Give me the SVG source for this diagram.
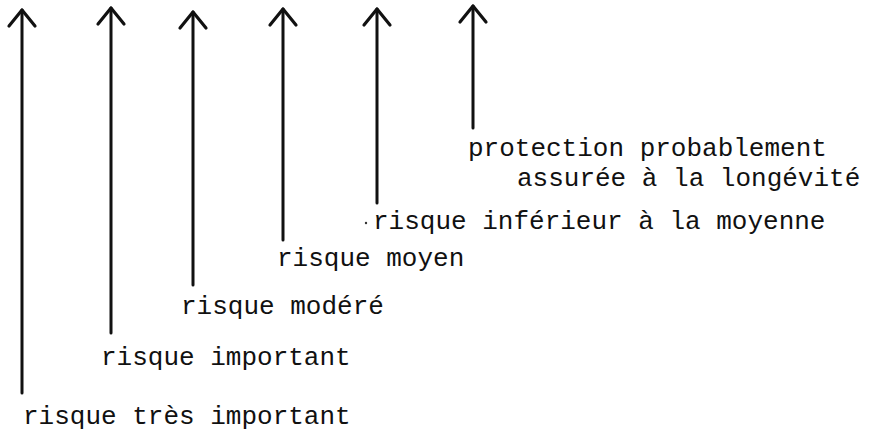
<svg xmlns="http://www.w3.org/2000/svg" width="881" height="433" viewBox="0 0 881 433">
  <style>
    .lbl { font-family: "Liberation Mono", "DejaVu Sans Mono", monospace; font-size: 26px; fill: #111; }
    .arr { stroke: #111; stroke-width: 3; fill: none; stroke-linecap: round; marker-end: url(#head); }
  </style>
  <defs>
    <marker id="head" markerUnits="userSpaceOnUse" orient="auto" markerWidth="40" markerHeight="40" refX="0" refY="0" viewBox="-20 -20 40 40" overflow="visible">
      <path d="M-16,-13 L0,0 L-16,13" fill="none" stroke="#111" stroke-width="3.2" stroke-linecap="round" stroke-linejoin="round"/>
    </marker>
  </defs>
  <rect width="881" height="433" fill="#fff"/>
  <g id="connectors">
    <line class="arr" x1="22" y1="393" x2="22" y2="10"/>
    <line class="arr" x1="111" y1="333" x2="111" y2="8"/>
    <line class="arr" x1="193" y1="285" x2="193" y2="12"/>
    <line class="arr" x1="283" y1="240" x2="283" y2="9"/>
    <line class="arr" x1="377" y1="203" x2="377" y2="9"/>
    <line class="arr" x1="473" y1="128" x2="473" y2="6"/>
  </g>
  <g id="n1"><text class="lbl" x="23" y="424">risque très important</text></g>
  <g id="n2"><text class="lbl" x="101" y="365">risque important</text></g>
  <g id="n3"><text class="lbl" x="181" y="314">risque modéré</text></g>
  <g id="n4"><text class="lbl" x="277" y="266">risque moyen</text></g>
  <g id="n5"><circle cx="366" cy="223" r="1.2" fill="#333"/><text class="lbl" x="373" y="229">risque inférieur à la moyenne</text></g>
  <g id="n6"><text class="lbl" x="468" y="156">protection probablement</text><text class="lbl" x="517" y="186">assurée à la longévité</text></g>
</svg>
